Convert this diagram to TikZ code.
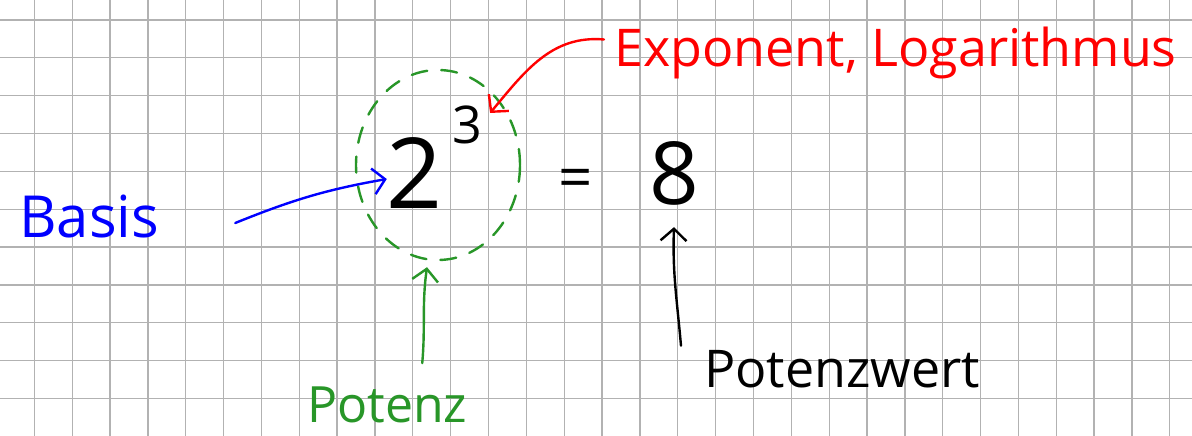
\documentclass[tikz,border=0pt]{standalone}
\usepackage{fontspec}
\setmainfont{Open Sans}
\usetikzlibrary{shapes.geometric,arrows.meta}
\definecolor{pengreen}{RGB}{40,150,40}

\begin{document}
\begin{tikzpicture}[x=1pt,y=1pt,line cap=round,
		>={Straight Barb[length=12pt,width=26pt]},
		pen/.style={line width=2.4pt},
		lbl/.style={inner sep=2pt,font=\fontsize{52}{60}\selectfont}]
			% squared paper
			\fill[white] (0,0) rectangle (1192,436);
			\useasboundingbox (0,0) rectangle (1192,436);
			\foreach \i in {0,...,30}
				\draw[gray!60,line width=1.3pt] (34.3+37.85*\i,0) -- ++(0,436);
			\foreach \j in {0,...,10}
				\draw[gray!60,line width=1.3pt] (0,416-37.85*\j) -- ++(1192,0);
			% the power and its value
			\node[inner sep=0pt,font=\fontsize{98}{110}\selectfont] (base) at (415,263) {2};
			\node[inner sep=0pt,font=\fontsize{52}{60}\selectfont] (expo) at (467,311) {3};
			\node[inner sep=0pt,font=\fontsize{60}{70}\selectfont] (eq) at (576,252) {=};
			\node[inner sep=0pt,font=\fontsize{87}{100}\selectfont] (value) at (674,263) {8};
			\node[ellipse,draw=pengreen,pen,dash pattern=on 16pt off 14pt,
				minimum width=164pt,minimum height=190pt,inner sep=0pt] (potenz) at (438,271) {};
			% labels
			\node[lbl,blue,anchor=base west,font=\fontsize{58}{66}\selectfont] (basis) at (17,198) {Basis};
			\node[lbl,red,anchor=base west,font=\fontsize{52}{60}\selectfont] (expolabel) at (612,369) {Exponent, Logarithmus};
			\node[lbl,pengreen,anchor=base west,font=\fontsize{50}{60}\selectfont] (potenzlabel) at (305,13) {Potenz};
			\node[lbl,anchor=base west] (wertlabel) at (702,48) {Potenzwert};
			% arrows
			\draw[->,pen,blue] ([xshift=74pt,yshift=-6pt]basis.east) to[out=22,in=190] ([yshift=-6pt]base.west);
			\draw[->,pen,red] ([xshift=-8pt,yshift=14pt]expolabel.west) to[out=175,in=50] ([xshift=8pt,yshift=12pt]expo.east);
			\draw[->,pen,pengreen] ([xshift=35pt,yshift=22pt]potenzlabel.north) to[out=85,in=262] ([xshift=-11pt,yshift=-6pt]potenz.south);
			\draw[->,pen] ([xshift=-21pt,yshift=3pt]wertlabel.north west) to[out=95,in=268] ([yshift=-22pt]value.south);
		\end{tikzpicture}
\end{document}
